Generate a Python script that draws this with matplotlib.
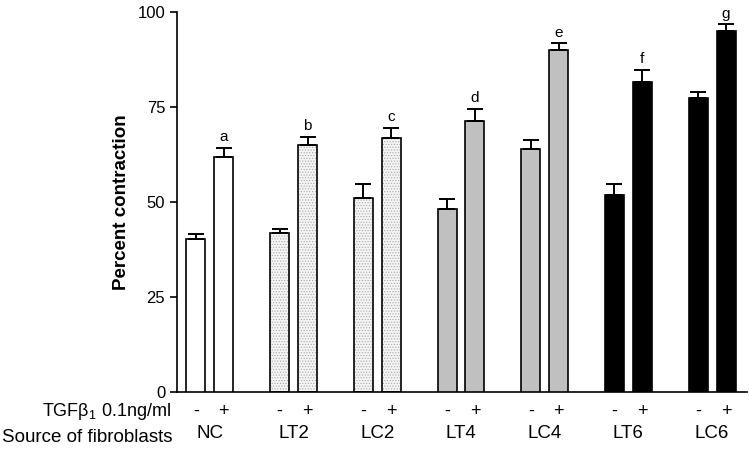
import numpy as np
import matplotlib.pyplot as plt

plt.rcParams['font.family'] = ['Liberation Sans', 'DejaVu Sans']
plt.rcParams['mathtext.fontset'] = 'custom'
plt.rcParams['mathtext.rm'] = 'Liberation Sans'

# data
groups = ['NC', 'LT2', 'LC2', 'LT4', 'LC4', 'LT6', 'LC6']
minus_vals = [40.3, 41.9, 51.0, 48.2, 64.0, 52.0, 77.4]
minus_err = [1.4, 1.1, 3.8, 2.6, 2.3, 2.8, 1.7]
plus_vals = [62.0, 65.0, 67.0, 71.3, 90.0, 81.7, 95.2]
plus_err = [2.3, 2.1, 2.6, 3.3, 1.8, 3.2, 1.6]
letters = ['a', 'b', 'c', 'd', 'e', 'f', 'g']
fills = ['white', '#f4f4f4', '#f4f4f4', '#c0c0c0', '#c0c0c0', 'black', 'black']
dotted = [False, True, True, False, False, False, False]

fig = plt.figure(figsize=(7.5, 4.51), dpi=100)
ax = fig.add_axes([0.236, 0.1305, 0.76, 0.8422])

centers = np.arange(len(groups)) * 3.0
width = 0.68

for i, g in enumerate(groups):
    xs = [centers[i] - 0.5, centers[i] + 0.5]
    vals = [minus_vals[i], plus_vals[i]]
    errs = [minus_err[i], plus_err[i]]
    if dotted[i]:
        plt.rcParams['hatch.color'] = '#a8a8a8'
        plt.rcParams['hatch.linewidth'] = 0.5
        ax.bar(xs, vals, width, color=fills[i], hatch='......', edgecolor='#a8a8a8', linewidth=0, zorder=2)
        ax.bar(xs, vals, width, fill=False, edgecolor='black', linewidth=1.2, zorder=3)
    else:
        ax.bar(xs, vals, width, color=fills[i], edgecolor='black', linewidth=1.2, zorder=3)
    ax.errorbar(xs, vals, yerr=[[0, 0], errs], fmt='none', ecolor='black',
                elinewidth=1.4, capsize=6, capthick=1.4, zorder=4)
    ax.text(xs[1], vals[1] + errs[1] + 1.0, letters[i], ha='center', va='bottom', fontsize=11)

ax.set_ylim(0, 100)
ax.set_xlim(-1.18, centers[-1] + 1.25)
ax.set_yticks([0, 25, 50, 75, 100])
ax.tick_params(axis='y', labelsize=12, length=5, width=1.2, direction='out')
ax.set_xticks([])
for s in ['top', 'right']:
    ax.spines[s].set_visible(False)
ax.spines['left'].set_linewidth(1.2)
ax.spines['bottom'].set_linewidth(1.2)
ax.set_ylabel('Percent contraction', fontsize=13.5, fontweight='bold', labelpad=5.5)

# rows of labels under the axis
trans = ax.get_xaxis_transform()
for i, g in enumerate(groups):
    ax.text(centers[i] - 0.5, -0.05, '-', transform=trans, ha='center', va='center', fontsize=13)
    ax.text(centers[i] + 0.5, -0.05, '+', transform=trans, ha='center', va='center', fontsize=13)
    ax.text(centers[i], -0.11, g, transform=trans, ha='center', va='center', fontsize=13.5)
fig.text(171 / 750, 1 - 412 / 451, 'TGFβ$_1$ 0.1ng/ml', ha='right', va='center', fontsize=13)
fig.text(172 / 750, 1 - 438 / 451, 'Source of fibroblasts', ha='right', va='center', fontsize=13.5)

fig.savefig('out.png', dpi=100)
